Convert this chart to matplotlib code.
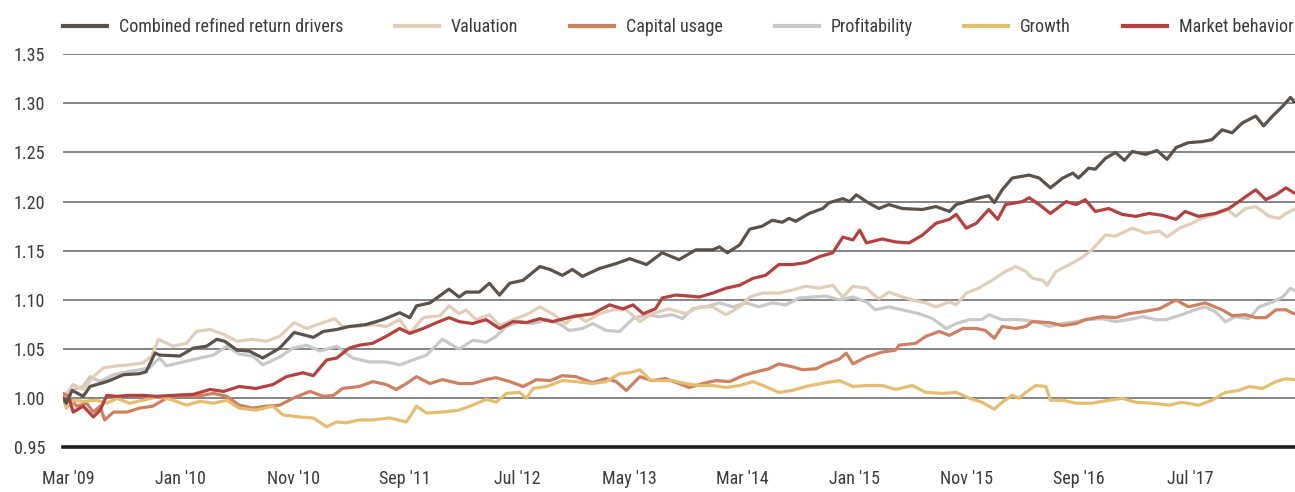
import matplotlib.pyplot as plt

plt.rcParams['font.family'] = ['Roboto Condensed', 'Liberation Sans', 'DejaVu Sans']

# x values: months since Mar 2009
combined_m = [-0.5, -0.2, 0.3, 1.3, 1.9, 3.4, 4.9, 6.3, 6.9, 7.7, 8.1, 9.9, 11.1, 12.3, 13.2, 13.9,
              15.0, 16.1, 17.3, 18.8, 20.1, 21.8, 22.7, 23.9, 25.0, 26.5, 28.0, 29.5, 30.4, 31.0,
              32.2, 33.9, 34.8, 35.4, 36.6, 37.5, 38.4, 39.3, 40.5, 42.0, 42.9, 44.0, 44.9, 45.8,
              47.3, 48.8, 50.0, 51.5, 52.9, 54.4, 55.9, 57.4, 58.0, 58.7, 59.8, 60.7, 61.8, 62.7,
              63.6, 64.2, 64.8, 66.0, 67.2, 67.8, 69.0, 69.6, 70.2, 71.1, 72.2, 73.1, 74.3, 76.1,
              77.3, 78.5, 79.1, 80.9, 82.0, 82.5, 83.2, 84.1, 85.6, 86.5, 87.5, 88.6, 89.5, 90.0,
              90.9, 91.5, 92.4, 93.3, 94.1, 94.8, 96.0, 97.0, 97.9, 98.7, 99.8, 101.0, 101.9,
              102.8, 103.7, 104.6, 105.8, 106.5, 107.3, 108.2, 108.9, 109.2]
combined_v = [1.000, 0.995, 1.008, 1.002, 1.012, 1.017, 1.024, 1.025, 1.027, 1.046, 1.044, 1.043,
              1.051, 1.053, 1.060, 1.058, 1.049, 1.048, 1.041, 1.051, 1.067, 1.062, 1.068, 1.070,
              1.073, 1.075, 1.080, 1.087, 1.082, 1.094, 1.097, 1.111, 1.103, 1.108, 1.108, 1.117,
              1.105, 1.117, 1.120, 1.134, 1.131, 1.125, 1.131, 1.124, 1.132, 1.137, 1.142, 1.136,
              1.148, 1.141, 1.151, 1.151, 1.154, 1.148, 1.156, 1.172, 1.175, 1.181, 1.179, 1.183,
              1.180, 1.188, 1.193, 1.199, 1.203, 1.200, 1.207, 1.200, 1.193, 1.197, 1.193, 1.192,
              1.195, 1.190, 1.197, 1.203, 1.206, 1.199, 1.212, 1.224, 1.227, 1.224, 1.214, 1.224,
              1.229, 1.224, 1.234, 1.233, 1.244, 1.250, 1.242, 1.251, 1.248, 1.252, 1.243, 1.255,
              1.260, 1.261, 1.263, 1.273, 1.270, 1.280, 1.287, 1.277, 1.287, 1.297, 1.306, 1.302]

valuation_m = [-0.5, 0.4, 1.3, 2.2, 3.1, 4.3, 5.4, 6.6, 7.4, 8.0, 9.3, 10.5, 11.4, 12.6, 13.8, 15.0,
               16.4, 17.6, 18.8, 20.1, 21.2, 22.7, 23.7, 24.4, 25.6, 27.1, 28.3, 29.5, 30.4, 31.6,
               33.1, 33.9, 34.8, 35.4, 36.3, 37.5, 38.4, 39.6, 40.8, 42.0, 43.1, 44.3, 45.2, 46.1,
               47.3, 48.5, 49.7, 50.9, 52.0, 53.5, 55.0, 56.2, 57.4, 58.6, 59.8, 60.7, 61.8, 63.3,
               64.5, 65.7, 66.9, 68.1, 69.0, 69.9, 71.1, 72.2, 73.1, 74.3, 75.2, 76.4, 77.3, 78.5,
               79.1, 80.0, 81.1, 82.3, 83.5, 84.4, 85.3, 85.9, 86.8, 87.2, 88.0, 89.2, 90.3, 91.2,
               92.4, 93.3, 94.8, 96.0, 97.2, 97.9, 99.0, 100.1, 101.0, 102.2, 103.3, 104.0, 104.9,
               105.8, 107.0, 107.9, 108.5, 109.2]
valuation_v = [1.000, 1.014, 1.009, 1.022, 1.031, 1.033, 1.034, 1.036, 1.043, 1.060, 1.053, 1.056,
               1.068, 1.070, 1.065, 1.058, 1.060, 1.058, 1.063, 1.077, 1.071, 1.077, 1.081, 1.073,
               1.073, 1.075, 1.073, 1.080, 1.066, 1.082, 1.084, 1.094, 1.086, 1.090, 1.080, 1.085,
               1.074, 1.080, 1.085, 1.093, 1.086, 1.076, 1.085, 1.078, 1.086, 1.090, 1.090, 1.078,
               1.086, 1.091, 1.086, 1.093, 1.093, 1.085, 1.093, 1.103, 1.107, 1.107, 1.110, 1.114,
               1.112, 1.115, 1.103, 1.114, 1.112, 1.101, 1.108, 1.103, 1.100, 1.097, 1.093, 1.098,
               1.095, 1.107, 1.112, 1.120, 1.129, 1.134, 1.129, 1.122, 1.120, 1.115, 1.129, 1.136,
               1.143, 1.151, 1.166, 1.165, 1.173, 1.168, 1.170, 1.164, 1.173, 1.178, 1.183, 1.187,
               1.192, 1.185, 1.193, 1.195, 1.185, 1.183, 1.188, 1.192]

capital_m = [-0.5, 0.0, 0.7, 1.6, 2.2, 2.8, 3.2, 4.0, 5.2, 6.3, 7.5, 8.7, 10.2, 11.4, 12.9, 14.1,
             15.2, 16.4, 17.6, 18.8, 20.0, 21.5, 22.7, 23.6, 24.4, 25.9, 27.1, 28.3, 29.2, 30.1,
             31.0, 32.2, 33.3, 34.8, 36.0, 37.2, 38.1, 39.3, 40.5, 41.7, 42.9, 44.0, 45.2, 46.7,
             47.9, 48.8, 49.7, 50.9, 52.0, 53.2, 54.4, 55.3, 56.5, 57.7, 58.9, 60.1, 61.3, 62.4,
             63.3, 64.5, 65.4, 66.6, 67.5, 68.7, 69.3, 69.9, 71.1, 72.5, 73.7, 74.0, 75.5, 76.4,
             77.6, 78.5, 79.7, 80.9, 81.7, 82.5, 83.2, 84.4, 85.3, 85.9, 87.4, 88.6, 89.8, 90.6,
             92.1, 93.3, 94.5, 95.7, 97.2, 98.7, 99.8, 101.3, 102.8, 103.7, 104.9, 105.8, 106.7,
             107.6, 108.5, 109.2]
capital_v = [1.005, 1.002, 0.992, 0.995, 0.986, 0.992, 0.978, 0.986, 0.986, 0.990, 0.992, 1.000,
             1.003, 1.002, 1.005, 1.002, 0.993, 0.990, 0.992, 0.993, 1.000, 1.007, 1.002, 1.003,
             1.010, 1.012, 1.017, 1.014, 1.009, 1.015, 1.022, 1.015, 1.019, 1.015, 1.015, 1.019,
             1.021, 1.017, 1.012, 1.019, 1.018, 1.023, 1.022, 1.016, 1.020, 1.017, 1.008, 1.022,
             1.018, 1.020, 1.015, 1.011, 1.015, 1.018, 1.017, 1.023, 1.027, 1.030, 1.035, 1.032,
             1.029, 1.030, 1.035, 1.040, 1.046, 1.035, 1.042, 1.047, 1.049, 1.054, 1.056, 1.063,
             1.068, 1.064, 1.071, 1.071, 1.069, 1.061, 1.073, 1.071, 1.073, 1.078, 1.077, 1.074,
             1.076, 1.080, 1.083, 1.082, 1.086, 1.088, 1.091, 1.100, 1.093, 1.097, 1.090, 1.084,
             1.085, 1.082, 1.082, 1.090, 1.090, 1.086]

profit_m = [-0.5, 0.4, 1.3, 1.9, 2.8, 4.0, 5.2, 6.3, 7.2, 8.1, 8.7, 10.2, 11.7, 12.9, 14.1, 15.2,
            16.4, 17.3, 18.8, 20.0, 21.2, 22.4, 23.9, 25.3, 26.8, 28.3, 29.5, 30.7, 31.9, 33.3,
            34.8, 36.0, 37.2, 38.1, 39.0, 40.2, 41.4, 42.6, 43.7, 44.6, 45.8, 46.7, 47.9, 49.1,
            50.3, 51.5, 52.6, 53.8, 54.7, 55.6, 56.8, 58.0, 59.2, 60.4, 61.5, 62.7, 63.9, 65.1,
            66.3, 67.5, 68.7, 69.9, 71.1, 71.9, 73.1, 74.3, 75.8, 77.0, 78.2, 79.1, 80.3, 81.4,
            82.0, 83.2, 84.7, 86.2, 87.4, 88.6, 89.8, 90.9, 92.1, 93.3, 94.5, 95.7, 96.9, 97.8,
            99.2, 100.4, 101.3, 102.2, 103.1, 104.0, 105.2, 106.1, 107.3, 108.2, 108.9, 109.2]
profit_v = [1.000, 1.009, 1.012, 1.022, 1.017, 1.024, 1.027, 1.029, 1.031, 1.041, 1.033, 1.037,
            1.041, 1.044, 1.053, 1.045, 1.043, 1.034, 1.042, 1.051, 1.054, 1.048, 1.053, 1.041,
            1.037, 1.037, 1.034, 1.039, 1.044, 1.060, 1.050, 1.059, 1.057, 1.063, 1.073, 1.078,
            1.076, 1.080, 1.076, 1.069, 1.071, 1.076, 1.069, 1.068, 1.081, 1.085, 1.083, 1.085,
            1.081, 1.091, 1.093, 1.097, 1.093, 1.097, 1.093, 1.097, 1.095, 1.102, 1.103, 1.104,
            1.100, 1.103, 1.098, 1.090, 1.093, 1.090, 1.086, 1.081, 1.071, 1.076, 1.080, 1.080,
            1.085, 1.080, 1.080, 1.078, 1.073, 1.076, 1.078, 1.080, 1.081, 1.078, 1.080, 1.083,
            1.080, 1.080, 1.085, 1.090, 1.093, 1.088, 1.078, 1.083, 1.081, 1.093, 1.098, 1.103,
            1.112, 1.110]

growth_m = [-0.5, -0.2, 0.4, 1.3, 2.5, 3.4, 4.3, 5.4, 6.6, 8.1, 9.3, 10.5, 11.7, 12.9, 14.1, 15.2,
            16.7, 18.2, 19.1, 20.6, 21.8, 23.0, 23.9, 24.7, 25.9, 27.1, 28.6, 30.1, 31.0, 31.9,
            33.3, 34.8, 36.0, 37.2, 38.1, 39.0, 40.2, 40.8, 41.4, 42.6, 44.0, 45.2, 46.7, 47.9,
            49.1, 50.0, 50.9, 51.8, 52.6, 53.8, 55.0, 56.2, 57.4, 58.6, 59.8, 61.0, 62.1, 63.3,
            64.5, 65.7, 67.5, 68.7, 69.9, 71.1, 72.5, 73.7, 75.2, 76.4, 77.9, 79.1, 80.3, 81.4,
            82.5, 83.2, 84.1, 84.7, 85.3, 86.2, 87.1, 87.5, 88.6, 89.8, 91.2, 92.7, 93.9, 95.1,
            96.6, 98.1, 99.2, 100.7, 101.9, 103.1, 104.3, 105.2, 106.4, 107.6, 108.5, 109.2]
growth_v = [1.000, 0.990, 0.998, 0.997, 0.998, 0.995, 1.000, 0.995, 0.998, 1.002, 0.998, 0.993,
            0.997, 0.995, 0.998, 0.990, 0.988, 0.992, 0.983, 0.981, 0.980, 0.971, 0.976, 0.975,
            0.978, 0.978, 0.980, 0.976, 0.992, 0.985, 0.986, 0.988, 0.993, 0.999, 0.996, 1.005,
            1.006, 1.000, 1.010, 1.012, 1.018, 1.017, 1.015, 1.017, 1.025, 1.026, 1.029, 1.019,
            1.018, 1.018, 1.015, 1.013, 1.013, 1.011, 1.013, 1.017, 1.012, 1.006, 1.008, 1.012,
            1.016, 1.018, 1.012, 1.013, 1.013, 1.009, 1.013, 1.006, 1.005, 1.006, 1.000, 0.996,
            0.989, 0.996, 1.003, 1.000, 1.006, 1.013, 1.012, 0.998, 0.998, 0.995, 0.995, 0.998,
            1.000, 0.996, 0.995, 0.993, 0.996, 0.993, 0.998, 1.006, 1.008, 1.012, 1.010, 1.017,
            1.020, 1.019]

market_m = [-0.5, 0.1, 0.4, 1.3, 2.2, 2.8, 3.4, 4.3, 5.4, 6.6, 7.8, 9.3, 11.1, 12.6, 13.8, 15.2,
            16.7, 18.2, 19.4, 20.9, 21.8, 23.0, 23.9, 25.0, 25.9, 27.1, 28.3, 29.5, 30.4, 31.6,
            32.8, 33.9, 34.8, 36.0, 37.2, 38.4, 39.6, 40.8, 42.0, 43.1, 44.9, 46.7, 48.2, 49.4,
            50.3, 51.2, 52.3, 52.9, 54.1, 55.3, 56.2, 57.4, 58.6, 59.8, 61.0, 62.1, 63.3, 64.5,
            65.7, 66.9, 68.1, 69.0, 69.9, 70.5, 71.1, 72.5, 73.7, 74.9, 76.1, 77.3, 78.5, 79.1,
            80.0, 80.9, 82.0, 82.8, 83.5, 85.0, 85.6, 86.5, 87.5, 88.9, 89.8, 90.6, 91.5, 92.7,
            93.9, 95.1, 96.3, 97.5, 98.7, 99.5, 100.7, 102.2, 103.4, 104.3, 104.9, 105.8, 106.7,
            107.6, 108.5, 109.2]
market_v = [1.000, 0.998, 0.986, 0.992, 0.981, 0.988, 1.003, 1.002, 1.003, 1.003, 1.002, 1.003,
            1.004, 1.009, 1.007, 1.012, 1.010, 1.014, 1.022, 1.026, 1.023, 1.039, 1.041, 1.051,
            1.054, 1.056, 1.063, 1.071, 1.066, 1.071, 1.077, 1.082, 1.078, 1.076, 1.080, 1.071,
            1.078, 1.077, 1.081, 1.078, 1.083, 1.086, 1.095, 1.091, 1.095, 1.086, 1.091, 1.102,
            1.105, 1.104, 1.103, 1.107, 1.112, 1.115, 1.122, 1.125, 1.136, 1.136, 1.138, 1.144,
            1.148, 1.164, 1.161, 1.171, 1.158, 1.162, 1.159, 1.158, 1.166, 1.178, 1.182, 1.187,
            1.173, 1.178, 1.192, 1.182, 1.197, 1.200, 1.204, 1.197, 1.188, 1.200, 1.197, 1.202,
            1.190, 1.193, 1.187, 1.185, 1.188, 1.186, 1.182, 1.190, 1.185, 1.188, 1.193, 1.200,
            1.205, 1.212, 1.202, 1.207, 1.214, 1.209]

tick_months = [0, 10, 20, 30, 40, 50, 60, 70, 80, 90, 100]
tick_labels = ["Mar '09", "Jan '10", "Nov '10", "Sep '11", "Jul '12", "May '13",
               "Mar '14", "Jan '15", "Nov '15", "Sep '16", "Jul '17"]
y_ticks = [0.95, 1.00, 1.05, 1.10, 1.15, 1.20, 1.25, 1.30, 1.35]

series = [
    ("Combined refined return drivers", combined_m, combined_v, "#5b524b", 10),
    ("Valuation", valuation_m, valuation_v, "#e2cdb6", 4),
    ("Capital usage", capital_m, capital_v, "#cf8060", 5),
    ("Profitability", profit_m, profit_v, "#c8c8c8", 3),
    ("Growth", growth_m, growth_v, "#e4be70", 6),
    ("Market behavior", market_m, market_v, "#b5413f", 7),
]

text_color = "#3a3a3a"
fs = 13

fig = plt.figure(figsize=(12.95, 4.92), dpi=100)
ax = fig.add_axes([0.0487, 0.0905, 0.9513, 0.7995])

for name, xs, ys, col, z in series:
    ax.plot(xs, ys, color=col, lw=2.3, label=name, zorder=z, solid_joinstyle='round')

ax.set_xlim(-0.5, 109.3)
ax.set_ylim(0.95, 1.35)
ax.set_yticks(y_ticks)
ax.set_yticklabels([f"{v:.2f}" for v in y_ticks])
ax.set_xticks(tick_months)
ax.set_xticklabels(tick_labels)

ax.grid(axis='y', color='#707070', lw=1.2, zorder=1)
ax.grid(axis='x', visible=False)
for s in ['top', 'right', 'left']:
    ax.spines[s].set_visible(False)
ax.spines['bottom'].set_color('#1e1e1e')
ax.spines['bottom'].set_linewidth(2.6)
ax.spines['bottom'].set_zorder(20)

ax.tick_params(axis='y', length=0, pad=13, labelsize=fs, labelcolor=text_color)
ax.tick_params(axis='x', length=0, pad=16, labelsize=fs, labelcolor=text_color)

leg = ax.legend(loc='lower left', bbox_to_anchor=(0.0, 1.045), ncol=6, frameon=False,
                fontsize=fs, handlelength=2.45, handletextpad=0.65, columnspacing=2.86,
                borderaxespad=0, borderpad=0)
for t in leg.get_texts():
    t.set_color(text_color)
for h in leg.get_lines():
    h.set_linewidth(3)

fig.savefig('out.png', dpi=100)
